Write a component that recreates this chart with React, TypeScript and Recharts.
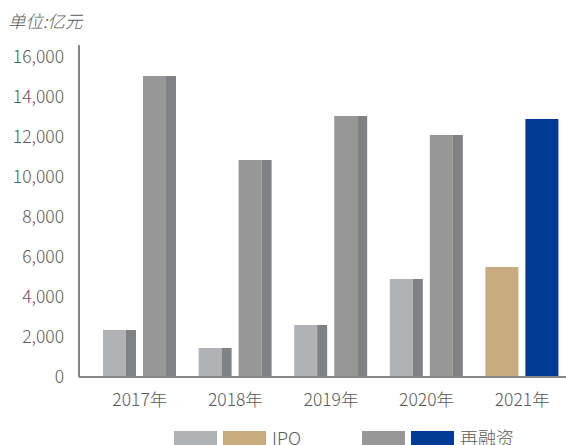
import React from 'react';
import { BarChart, Bar, XAxis, YAxis, Cell } from 'recharts';

const years = ['2017年', '2018年', '2019年', '2020年', '2021年'];
const ipoValues = [2350, 1450, 2600, 4900, 5500];
const refiValues = [15050, 10850, 13050, 12100, 12900];
const yTicks = [0, 2000, 4000, 6000, 8000, 10000, 12000, 14000, 16000];
const highlightYear = '2021年';

const FONT = '"Noto Sans CJK SC", "Noto Sans", sans-serif';
const TEXT = '#5a5a5a';
const AXIS = '#86868a';
const SIDE = '#808185';

const ipoColors = { normal: '#b1b2b6', highlight: '#c8aa7f' };
const refiColors = { normal: '#979797', highlight: '#003a92' };

const data = years.map((year, i) => ({ year, ipo: ipoValues[i], refi: refiValues[i] }));

// bar with a darker strip on the right, except the highlighted year
function SideBar(props: any) {
  const { x, y, width, height, fill, payload } = props;
  if (!height || height <= 0) return null;
  if (payload.year === highlightYear) {
    return <rect x={x} y={y} width={width} height={height} fill={fill} />;
  }
  const side = 10;
  return (
    <g>
      <rect x={x} y={y} width={width - side} height={height} fill={fill} />
      <rect x={x + width - side} y={y} width={side} height={height} fill={SIDE} />
    </g>
  );
}

function LegendItem({ colors, label, left }: { colors: string[]; label: string; left: number }) {
  return (
    <div style={{ position: 'absolute', left, top: 429, display: 'flex', alignItems: 'flex-start' }}>
      {colors.map((c, i) => (
        <div key={i} style={{ width: 43, height: 15, background: c, marginRight: 6, marginTop: 2 }} />
      ))}
      <span style={{ fontSize: 18, fontWeight: 300, color: TEXT, marginLeft: 0, lineHeight: '16px' }}>{label}</span>
    </div>
  );
}

export default function App() {
  return (
    <div style={{ position: 'absolute', left: 0, top: 0, width: 566, height: 445, overflow: 'hidden', fontFamily: FONT, background: '#fff' }}>
      <div style={{ position: 'absolute', left: 8, top: 8, fontSize: 17.5, fontWeight: 300, fontStyle: 'italic', color: TEXT }}>
        单位:亿元
      </div>
      <BarChart
        width={566}
        height={445}
        data={data}
        margin={{ top: 45, right: 0, left: 0, bottom: 38 }}
        barSize={33}
        barGap={7}
      >
        <XAxis
          dataKey="year"
          axisLine={{ stroke: AXIS, strokeWidth: 2 }}
          tickLine={false}
          tickSize={0}
          tickMargin={17}
          height={30}
          padding={{ left: 13, right: -4 }}
          tick={{ fill: TEXT, fontSize: 17.5, fontWeight: 300, fontFamily: FONT }}
        />
        <YAxis
          width={79}
          domain={[0, 16600]}
          ticks={yTicks}
          interval={0}
          axisLine={{ stroke: AXIS, strokeWidth: 2 }}
          tickLine={false}
          tickSize={0}
          tickMargin={15}
          tickFormatter={(v: number) => v.toLocaleString('en-US')}
          tick={{ fill: TEXT, fontSize: 17.5, fontWeight: 300, fontFamily: FONT }}
        />
        <Bar dataKey="ipo" shape={SideBar} isAnimationActive={false}>
          {data.map((d) => (
            <Cell key={d.year} fill={d.year === highlightYear ? ipoColors.highlight : ipoColors.normal} />
          ))}
        </Bar>
        <Bar dataKey="refi" shape={SideBar} isAnimationActive={false}>
          {data.map((d) => (
            <Cell key={d.year} fill={d.year === highlightYear ? refiColors.highlight : refiColors.normal} />
          ))}
        </Bar>
      </BarChart>
      <LegendItem colors={[ipoColors.normal, ipoColors.highlight]} label="IPO" left={174} />
      <LegendItem colors={[refiColors.normal, refiColors.highlight]} label="再融资" left={362} />
    </div>
  );
}
